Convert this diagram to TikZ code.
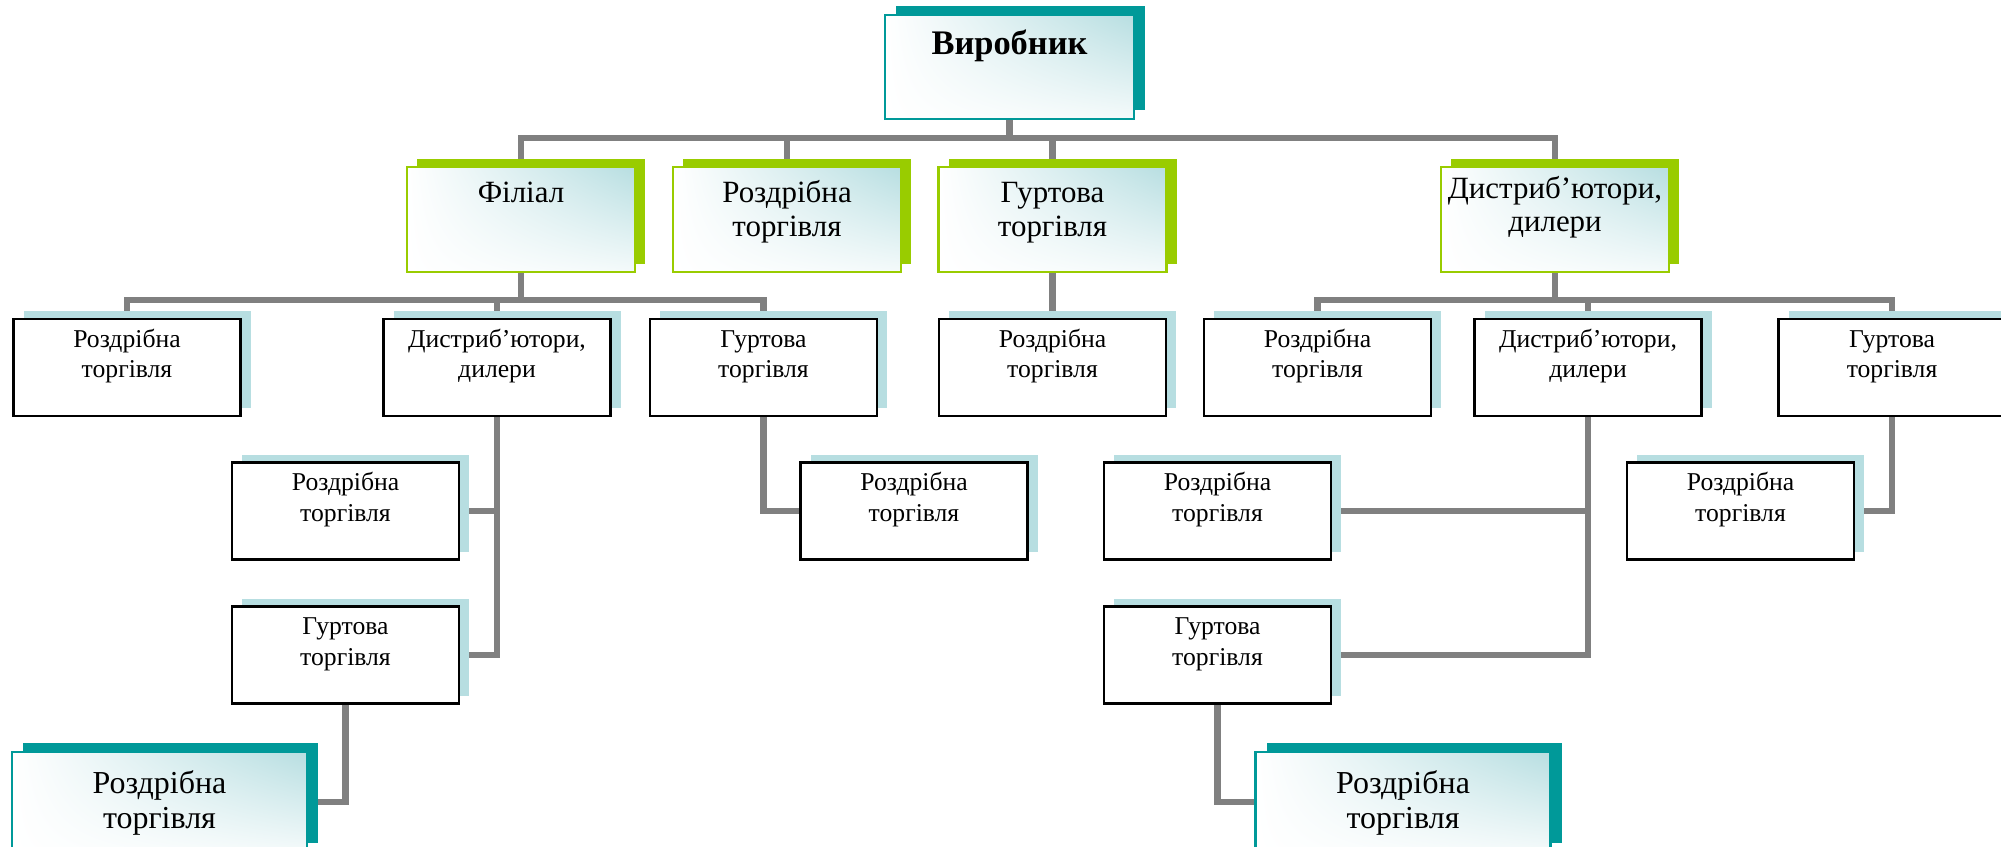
\documentclass[tikz,border=0pt]{standalone}
\usepackage{fontspec}
\setmainfont{Liberation Serif}
\usetikzlibrary{shadows}
\usetikzlibrary{shadings}
\usetikzlibrary{backgrounds}

\definecolor{tealdark}{RGB}{0,153,153}
\definecolor{limegreen}{RGB}{153,204,0}
\definecolor{paleblue}{RGB}{183,222,225}
\definecolor{linkgray}{RGB}{128,128,128}

\tikzset{
    link/.style={draw=linkgray, line width=1.8pt},
    glossy/.style={upper right=paleblue, upper left=white, lower left=white, lower right=white!85!paleblue},
    topbox/.style={glossy, draw=tealdark, line width=0.7pt, align=center, inner sep=0pt,
        general shadow={fill=tealdark, shadow xshift=0.11cm, shadow yshift=0.09cm},
        text width=2.49cm, text height=0.40cm, text depth=0.64cm,
        font=\fontsize{9.8}{11}\selectfont\bfseries},
    midbox/.style={glossy, draw=limegreen, line width=0.7pt, align=center, inner sep=0pt,
        general shadow={fill=limegreen, shadow xshift=0.1cm, shadow yshift=0.08cm},
        text width=2.28cm, text height=0.36cm, text depth=0.69cm,
        font=\fontsize{8.8}{9.4}\selectfont},
    smallbox/.style={fill=white, draw=black, line width=0.75pt, align=center, inner sep=0pt,
        general shadow={fill=paleblue, shadow xshift=0.1cm, shadow yshift=0.08cm},
        text width=2.27cm, text height=0.28cm, text depth=0.69cm,
        font=\fontsize{7.3}{8.8}\selectfont},
    bigbox/.style={glossy, draw=tealdark, line width=0.7pt, align=center, inner sep=0pt,
        general shadow={fill=tealdark, shadow xshift=0.11cm, shadow yshift=0.09cm},
        text width=2.95cm, text height=0.41cm, text depth=0.59cm,
        font=\fontsize{9.1}{9.96}\selectfont}
}

\begin{document}
\begin{tikzpicture}
    \useasboundingbox (0, 0) rectangle (20.01, -8.46);

    \node[topbox] (prod) at (10.095, -0.67) {Виробник};

    \node[midbox] (fil) at (5.21, -2.195) {Філіал};
    \node[midbox] (rozd1) at (7.87, -2.195) {Роздрібна\\торгівля};
    \node[midbox] (gurt1) at (10.525, -2.195) {Гуртова\\торгівля};
    \node[midbox, text height=0.31cm, text depth=0.74cm] (dist1) at (15.55, -2.195) {Дистриб’ютори,\\дилери};

    \node[smallbox] (r2a) at (1.27, -3.675) {Роздрібна\\торгівля};
    \node[smallbox] (d2a) at (4.97, -3.675) {Дистриб’ютори,\\дилери};
    \node[smallbox] (g2a) at (7.635, -3.675) {Гуртова\\торгівля};
    \node[smallbox] (r2b) at (10.525, -3.675) {Роздрібна\\торгівля};
    \node[smallbox] (r2c) at (13.175, -3.675) {Роздрібна\\торгівля};
    \node[smallbox] (d2b) at (15.88, -3.675) {Дистриб’ютори,\\дилери};
    \node[smallbox] (g2b) at (18.92, -3.675) {Гуртова\\торгівля};

    \node[smallbox] (r3a) at (3.455, -5.11) {Роздрібна\\торгівля};
    \node[smallbox] (g3a) at (3.455, -6.55) {Гуртова\\торгівля};
    \node[smallbox] (r3b) at (9.14, -5.11) {Роздрібна\\торгівля};
    \node[smallbox] (r3c) at (12.175, -5.11) {Роздрібна\\торгівля};
    \node[smallbox] (g3b) at (12.175, -6.55) {Гуртова\\торгівля};
    \node[smallbox] (r3d) at (17.405, -5.11) {Роздрібна\\торгівля};

    \node[bigbox] (bigL) at (1.595, -8.02) {Роздрібна\\торгівля};
    \node[bigbox] (bigR) at (14.03, -8.02) {Роздрібна\\торгівля};

    \coordinate (bus1) at (0, -1.38);
    \coordinate (bus2) at (0, -3.00);

    \begin{scope}[on background layer]
        \draw[link] (prod.south) -- (prod.south |- bus1);
        \draw[link] (fil.north) -- (fil.north |- bus1) -- (dist1.north |- bus1) -- (dist1.north);
        \draw[link] (rozd1.north) -- (rozd1.north |- bus1);
        \draw[link] (gurt1.north) -- (gurt1.north |- bus1);

        \draw[link] (fil.south) -- (fil.south |- bus2);
        \draw[link] (r2a.north) -- (r2a.north |- bus2) -- (g2a.north |- bus2) -- (g2a.north);
        \draw[link] (d2a.north) -- (d2a.north |- bus2);
        \draw[link] (gurt1.south) -- (r2b.north);
        \draw[link] (dist1.south) -- (dist1.south |- bus2);
        \draw[link] (r2c.north) -- (r2c.north |- bus2) -- (g2b.north |- bus2) -- (g2b.north);
        \draw[link] (d2b.north) -- (d2b.north |- bus2);

        \draw[link] (d2a.south) |- (g3a.east);
        \draw[link] (r3a.east) -- (r3a.east -| d2a.south);
        \draw[link] (g2a.south) |- (r3b.west);
        \draw[link] (g3a.south) |- (bigL.east);
        \draw[link] (d2b.south) |- (g3b.east);
        \draw[link] (r3c.east) -- (r3c.east -| d2b.south);
        \draw[link] (g3b.south) |- (bigR.west);
        \draw[link] (g2b.south) |- (r3d.east);
    \end{scope}
\end{tikzpicture}
\end{document}
